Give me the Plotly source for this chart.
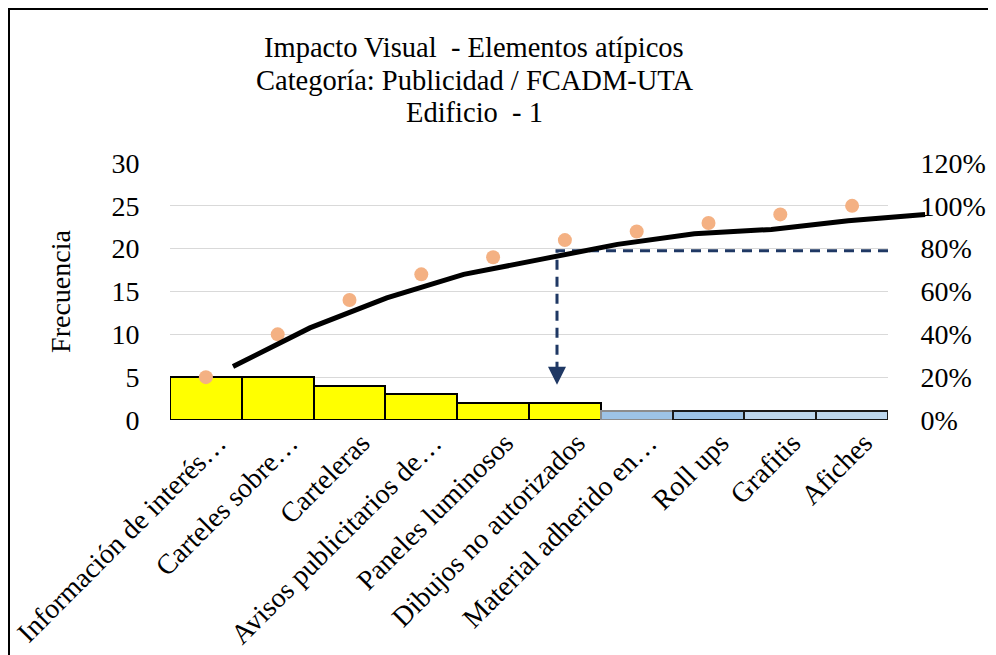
import plotly.graph_objects as go

# ---------------- data ----------------
categories = [
    "Información de interés…",
    "Carteles sobre…",
    "Carteleras",
    "Avisos publicitarios de…",
    "Paneles luminosos",
    "Dibujos no autorizados",
    "Material adherido en…",
    "Roll ups",
    "Grafitis",
    "Afiches",
]
frequency = [5, 5, 4, 3, 2, 2, 1, 1, 1, 1]
cumulative_pct = [0.20, 0.40, 0.56, 0.68, 0.76, 0.84, 0.88, 0.92, 0.96, 1.00]
trend_pct = [0.25, 0.43, 0.57, 0.68, 0.75, 0.82, 0.87, 0.89, 0.93, 0.96]
bar_colors = ["#FFFF00"] * 6 + ["#9DC3E6", "#9DC3E6", "#BDD7EE", "#BDD7EE"]
bar_edge_colors = ["#000000"] * 6 + ["#8C8C8C", "#1A1A1A", "#1A1A1A", "#1A1A1A"]
threshold_pct = 0.79          # 80/20 cut line level (right axis)
cutoff_position = 4.89        # category position of the cut
arrow_tip_pct = 0.165         # where the arrow points (right axis)
left_ticks = [0, 5, 10, 15, 20, 25, 30]
right_ticks = [0, 0.2, 0.4, 0.6, 0.8, 1.0, 1.2]
title_lines = [
    "Impacto Visual  - Elementos atípicos",
    "Categoría: Publicidad / FCADM-UTA",
    "Edificio  - 1",
]

FONT = "Liberation Serif"

# ---------------- geometry (figure px; page has 8px body offset) ----------------
OFF = 8
W, H = 996 - OFF, 655 - OFF
ML, MT = 170 - OFF, 163 - OFF
plot_bottom = 420 - OFF
MB = H - plot_bottom
MR = 60
plot_w = W - ML - MR
plot_h = H - MT - MB
main_right = 888 - OFF
main_dom = (main_right - ML) / plot_w
trend_start, trend_step = 233 - OFF, 76.9
x3_range = [(ML - trend_start) / trend_step, (W - MR - trend_start) / trend_step]


def px_x(sx):
    return (sx - OFF - ML) / plot_w


def px_y(sy):
    return (plot_bottom - (sy - OFF)) / plot_h


fig = go.Figure()

fig.add_trace(go.Bar(
    x=categories, y=frequency,
    marker=dict(color=bar_colors, line=dict(color=bar_edge_colors, width=2)),
    xaxis="x", yaxis="y", showlegend=False,
))

fig.add_trace(go.Scatter(
    x=categories, y=cumulative_pct, mode="markers",
    marker=dict(color="#F4B183", size=14),
    xaxis="x", yaxis="y2", showlegend=False, cliponaxis=False,
))

fig.add_trace(go.Scatter(
    x=[9.5, cutoff_position, cutoff_position],
    y=[threshold_pct, threshold_pct, arrow_tip_pct + 0.05],
    mode="lines",
    line=dict(color="#1F3864", width=3, dash="10px,7px"),
    xaxis="x2", yaxis="y2", showlegend=False,
))

fig.add_trace(go.Scatter(
    x=categories, y=trend_pct, mode="lines",
    line=dict(color="#000000", width=5),
    xaxis="x3", yaxis="y3", showlegend=False,
))

fig.add_annotation(
    x=cutoff_position, y=arrow_tip_pct, xref="x2", yref="y2",
    ax=cutoff_position, ay=arrow_tip_pct + 0.06, axref="x2", ayref="y2",
    text="", showarrow=True, arrowhead=2, arrowsize=1.2, arrowwidth=3,
    arrowcolor="#1F3864",
)

for line, sy in zip(title_lines, [47, 80, 112]):
    fig.add_annotation(
        text=line, x=px_x(474), y=px_y(sy), xref="paper", yref="paper",
        xanchor="center", yanchor="middle", showarrow=False,
        font=dict(family=FONT, size=28.5, color="black"),
    )

fig.update_layout(
    width=W, height=H,
    margin=dict(l=ML, r=MR, t=MT, b=MB),
    paper_bgcolor="white",
    plot_bgcolor="rgba(0,0,0,0)",
    bargap=0,
    font=dict(family=FONT, color="black"),
    xaxis=dict(
        domain=[0, main_dom], type="category", range=[-0.5, 9.5],
        tickangle=-45, tickfont=dict(family=FONT, size=28),
        ticklabelshift=12, automargin=False,
        showgrid=False, showline=False, ticks="", anchor="y",
    ),
    xaxis2=dict(
        overlaying="x", range=[-0.5, 9.5], visible=False, anchor="y2",
        automargin=False,
    ),
    xaxis3=dict(
        domain=[0, 1], type="category", range=x3_range, visible=False,
        anchor="y3", automargin=False,
    ),
    yaxis=dict(
        range=[0, 30], tickvals=left_ticks, tickfont=dict(family=FONT, size=28),
        showgrid=True, gridcolor="#D9D9D9", gridwidth=1.3, zeroline=False,
        ticks="outside", ticklen=24, tickcolor="rgba(0,0,0,0)", automargin=False,
        title=dict(text="Frecuencia", font=dict(family=FONT, size=28), standoff=32),
    ),
    yaxis2=dict(
        range=[0, 1.2], tickvals=right_ticks, tickformat=".0%",
        overlaying="y", side="right", anchor="x", automargin=False,
        tickfont=dict(family=FONT, size=28), showgrid=False, zeroline=False,
        ticks="outside", ticklen=26, tickcolor="rgba(0,0,0,0)",
    ),
    yaxis3=dict(
        domain=[0, 1], range=[0, 1.2], visible=False, anchor="x3",
        automargin=False,
    ),
    shapes=[dict(
        type="rect", xref="paper", yref="paper",
        x0=px_x(OFF + 1), x1=px_x(OFF + W + 4),
        y0=px_y(OFF + H + 4), y1=px_y(OFF + 1),
        line=dict(color="black", width=2), fillcolor="rgba(0,0,0,0)",
        layer="above",
    )],
)

fig.write_html("out.html")
